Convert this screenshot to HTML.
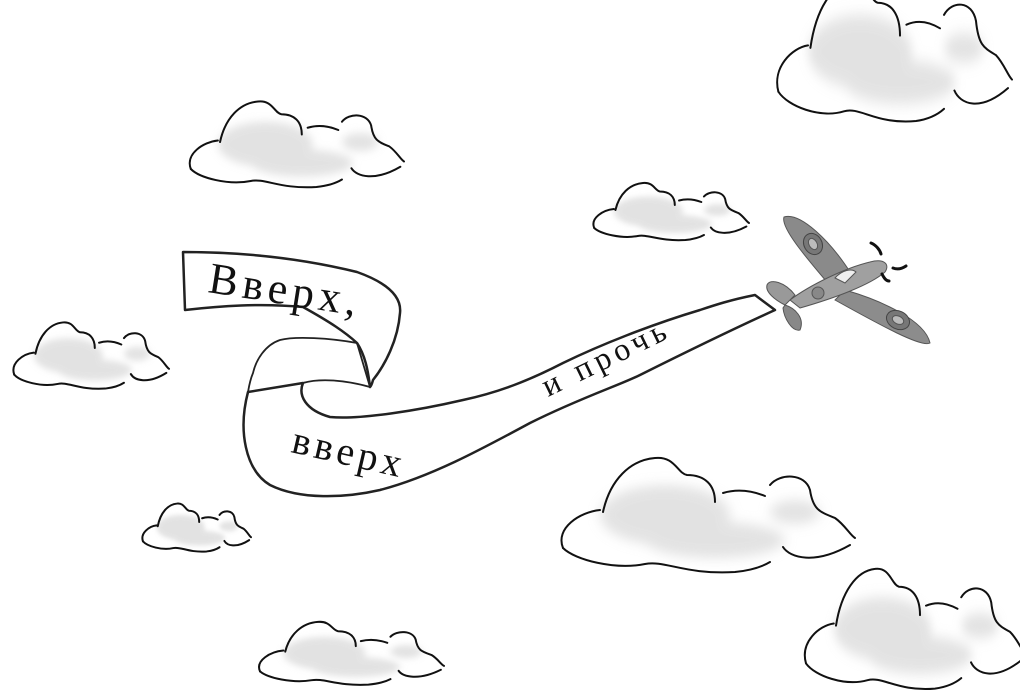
<!DOCTYPE html>
<html><head><meta charset="utf-8"><style>
html,body{margin:0;padding:0;background:#fff;width:1020px;height:693px;overflow:hidden}
svg{display:block}
text{font-family:"Liberation Serif","DejaVu Serif",serif;fill:#111}
</style></head><body>
<svg width="1020" height="693" viewBox="0 0 1020 693" xmlns="http://www.w3.org/2000/svg">
<defs>
<filter id="bl" x="-20%" y="-20%" width="140%" height="140%"><feGaussianBlur stdDeviation="6"/></filter>
<g id="cloud">
  <g filter="url(#bl)" fill="#d0d0d0" opacity="0.6">
    <ellipse cx="110" cy="75" rx="65" ry="30"/>
    <ellipse cx="160" cy="100" rx="70" ry="18"/>
    <ellipse cx="240" cy="72" rx="25" ry="12"/>
  </g>
  <g fill="none" stroke="#111" stroke-width="2" stroke-linecap="round">
    <path vector-effect="non-scaling-stroke" d="M8,108 C0,88 25,72 45,70 M48,72 C55,40 75,20 100,18 C120,16 122,33 132,35 C150,35 160,45 160,62 M168,53 C185,48 200,52 210,56 M215,45 C225,33 250,33 255,50 C258,70 265,72 280,78 C290,85 295,95 300,98"/>
    <path vector-effect="non-scaling-stroke" d="M8,108 C20,120 60,130 90,124 C110,120 130,135 180,132 C200,130 210,125 215,122 M228,107 C235,118 260,125 295,105"/>
  </g>
</g>
</defs>

<use href="#cloud" transform="translate(185,88) scale(0.73,0.75)"/>
<use href="#cloud" transform="translate(772,-40) scale(0.8,1.22)"/>
<use href="#cloud" transform="translate(590,174) scale(0.53,0.5)"/>
<use href="#cloud" transform="translate(10,312) scale(0.53,0.58)"/>
<use href="#cloud" transform="translate(140,496) scale(0.37,0.42)"/>
<use href="#cloud" transform="translate(555,440) scale(1,1)"/>
<use href="#cloud" transform="translate(800,550) scale(0.75,1.05)"/>
<use href="#cloud" transform="translate(255,612) scale(0.63,0.55)"/>

<!-- banner -->
<g stroke="#222" stroke-width="2.5" fill="#fff" stroke-linejoin="round">
  <!-- back narrow part -->
  <path d="M357,343 C330,338 295,336 280,340 C265,345 256,360 253,373 C250,380 249,386 248,392 L303,383 C320,378 345,380 370,387 Z" stroke-width="1.8"/>
  <!-- lower long part -->
  <path d="M248,392 C238,430 245,470 270,485 C300,500 345,498 380,490 C430,477 480,450 530,423 C580,398 620,385 640,375 C680,355 720,335 775,310 L755,295 C730,300 715,305 700,310 C650,325 600,345 563,363 C530,380 500,392 463,400 C420,410 360,420 330,417 C305,410 298,395 303,383 Z"/>
  <!-- top part -->
  <path d="M183,252 C240,252 300,258 357,272 C385,282 402,295 400,313 C398,340 385,365 373,380 C372,384 371,386 370,387 C368,370 365,355 357,343 C345,332 330,322 303,307 C260,303 220,306 185,310 Z"/>
</g>
<text x="0" y="0" font-size="44" letter-spacing="5" transform="translate(207,292) rotate(9)">Вверх,</text>
<text x="0" y="0" font-size="40" letter-spacing="4" transform="translate(290,452) rotate(13)">вверх</text>
<text x="0" y="0" font-size="32" letter-spacing="5" transform="translate(548,397) rotate(-26)">и прочь</text>

<!-- plane -->
<g stroke="#555" stroke-width="1">
  <path d="M784,217 C800,212 830,240 852,275 L832,288 C810,262 780,228 784,217 Z" fill="#8a8a8a"/>
  <ellipse cx="813" cy="244" rx="9" ry="11" fill="#777" stroke="#444" transform="rotate(-30 813 244)"/>
  <ellipse cx="813" cy="244" rx="4" ry="6" fill="#bbb" transform="rotate(-30 813 244)"/>
  <path d="M845,290 C880,300 925,320 930,343 C922,348 880,325 835,300 Z" fill="#8c8c8c"/>
  <ellipse cx="898" cy="320" rx="12" ry="9" fill="#777" stroke="#444" transform="rotate(25 898 320)"/>
  <ellipse cx="898" cy="320" rx="6" ry="4" fill="#bbb" transform="rotate(25 898 320)"/>
  <path d="M790,300 C810,285 845,268 870,262 C885,258 890,265 885,272 C870,285 835,298 800,308 Z" fill="#a0a0a0"/>
  <path d="M835,278 C842,270 852,268 856,272 L845,283 Z" fill="#eee"/>
  <ellipse cx="818" cy="293" rx="6" ry="6" fill="#888"/>
  <path d="M767,285 C770,278 785,282 795,295 L785,305 C775,300 765,292 767,285 Z" fill="#999"/>
  <path d="M785,305 C795,308 805,318 800,330 C792,332 784,318 783,308 Z" fill="#888"/>
</g>
<g stroke="#111" stroke-width="3" fill="none" stroke-linecap="round">
  <path d="M871,243 C876,245 880,250 881,254"/>
  <path d="M893,268 C898,270 903,268 906,266"/>
  <path d="M882,274 C884,278 886,281 889,281"/>
</g>
</svg>
</body></html>
